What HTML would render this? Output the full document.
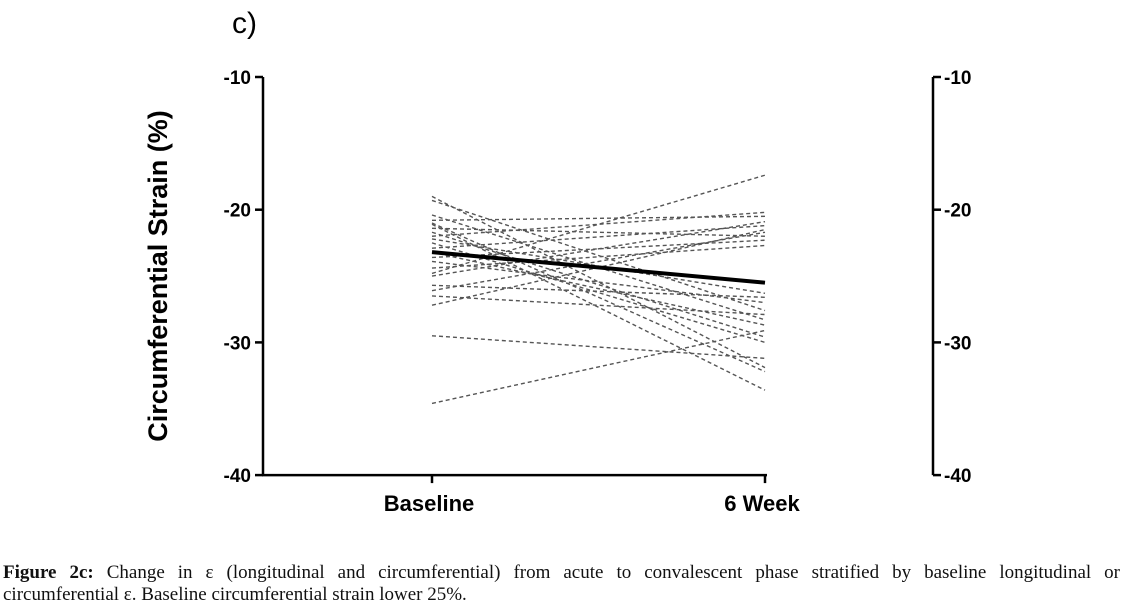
<!DOCTYPE html>
<html><head><meta charset="utf-8"><style>
body{margin:0;background:#fff;width:1123px;height:608px;overflow:hidden;font-family:"Liberation Sans",sans-serif}
.cap{position:absolute;left:3px;top:562px;width:1117px;font-family:"Liberation Serif",serif;font-size:19px;line-height:22px;color:#111}
.l1{text-align:justify;text-align-last:justify;white-space:nowrap}
</style></head><body>
<svg id="chart" width="1123" height="560" style="position:absolute;left:0;top:0">
<text x="232" y="33" font-size="30" font-family="Liberation Sans">c)</text>
<text transform="translate(167,276) rotate(-90)" text-anchor="middle" font-size="27" font-weight="bold" font-family="Liberation Sans">Circumferential Strain (%)</text>
<g id="axes"></g><g id="lines"></g>
</svg>
<div class="cap"><div class="l1"><b>Figure 2c:</b> Change in ε (longitudinal and circumferential) from acute to convalescent phase stratified by baseline longitudinal or</div><div>circumferential ε. Baseline circumferential strain lower 25%.</div></div>
<script>
const categories=["Baseline","6 Week"];
const yTicks=[-10,-20,-30,-40];
const baselineVals=[-19.0,-19.3,-20.4,-20.8,-21.1,-21.4,-21.7,-22.0,-22.5,-22.9,-23.2,-23.6,-23.9,-24.4,-24.8,-25.0,-25.7,-26.1,-26.5,-27.2,-29.5,-34.6,-21.0,-22.2];
const weekVals=[-31.9,-27.6,-28.3,-20.5,-33.6,-22.0,-29.6,-20.2,-30.0,-21.2,-28.7,-22.3,-27.0,-22.7,-17.4,-20.9,-26.6,-21.7,-27.9,-21.5,-31.2,-29.1,-32.2,-26.3];
const meanVals=[-23.2,-25.5];
const NS="http://www.w3.org/2000/svg";
const x=i=>[432,765][i];
const y=v=>77+(-10-v)*13.27;
const ax=document.getElementById('axes'),lg=document.getElementById('lines');
function mk(p,t,a){const e=document.createElementNS(NS,t);for(const k in a)e.setAttribute(k,a[k]);p.appendChild(e);return e;}
let e;
e=mk(ax,'line',{x1:263,y1:y(-10),x2:263,y2:y(-40),stroke:'#000','stroke-width':2.5});


e=mk(ax,'line',{x1:933,y1:y(-10),x2:933,y2:y(-40),stroke:'#000','stroke-width':2.5});


e=mk(ax,'line',{x1:262,y1:y(-40),x2:767,y2:y(-40),stroke:'#000','stroke-width':2.5});


yTicks.forEach(v=>{
 mk(ax,'line',{x1:255,y1:y(v),x2:263,y2:y(v),stroke:'#000','stroke-width':2.5});
 mk(ax,'line',{x1:933,y1:y(v),x2:941,y2:y(v),stroke:'#000','stroke-width':2.5});
 e=mk(ax,'text',{x:251,y:y(v)+7,'text-anchor':'end','font-size':19,'font-weight':'bold'});e.textContent=v;
 
 
 e=mk(ax,'text',{x:944,y:y(v)+7,'font-size':19,'font-weight':'bold'});e.textContent=v;
 
 
});
categories.forEach((c,i)=>{
 mk(ax,'line',{x1:x(i),y1:y(-40),x2:x(i),y2:y(-40)+8,stroke:'#000','stroke-width':2.5});
 e=mk(ax,'text',{x:x(i)-3,y:511,'text-anchor':'middle','font-size':22,'font-weight':'bold'});e.textContent=c;
 
 
});
baselineVals.forEach((b,i)=>{
 e=mk(lg,'line',{x1:x(0),y1:y(b),x2:x(1),y2:y(weekVals[i]),stroke:'#555','stroke-width':1.4,'stroke-dasharray':'4,3'});
 
 
});
e=mk(lg,'line',{x1:x(0),y1:y(meanVals[0]),x2:x(1),y2:y(meanVals[1]),stroke:'#000','stroke-width':4});


</script>
</body></html>
